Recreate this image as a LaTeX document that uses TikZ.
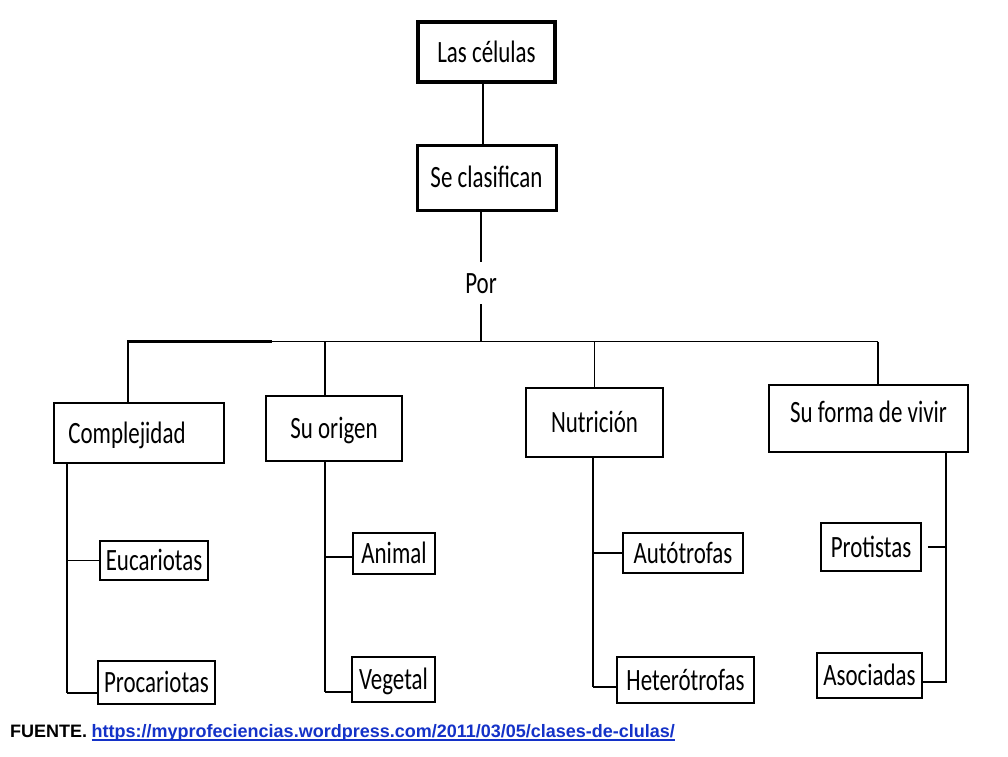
\documentclass[tikz,border=0pt]{standalone}
\usepackage{fontspec}
\usepackage{graphicx}
\setmainfont{Carlito}
\newfontfamily\footfont{Liberation Sans}
\definecolor{linkblue}{RGB}{20,50,200}
\newcommand\sq[1]{\scalebox{0.74}[1]{#1}}
\tikzset{
  box/.style={draw=black, inner sep=0pt, font=\fontsize{31}{36}\selectfont,
    text height=22pt, text depth=2pt},
  thn/.style={line width=1.2pt},
  thk/.style={line width=2.6pt},
}
\begin{document}
\begin{tikzpicture}[x=1pt,y=-1pt]
\useasboundingbox[fill=white] (0,0) rectangle (1008,756);
% top boxes
\node[box, line width=4pt, minimum width=137pt, minimum height=60pt] (cel) at (486.5,52) {\sq{Las células}};
\node[box, line width=3pt, minimum width=139pt, minimum height=65pt] (cla) at (486.5,177.5) {\sq{Se clasifican}};
\node[box, draw=none, inner ysep=9pt] (por) at (481,283) {\sq{Por}};
% second level
\node[box, line width=2pt, minimum width=170pt, minimum height=60pt] (comp) at (139,433) {\sq{Complejidad}\hspace*{24pt}};
\node[box, line width=1.2pt, minimum width=136pt, minimum height=65pt] (ori) at (334,428.5) {\sq{Su origen}};
\node[box, line width=2.5pt, minimum width=137pt, minimum height=69pt] (nut) at (594.5,422.5) {\sq{Nutrición}};
\node[box, line width=1.5pt, minimum width=199pt, minimum height=67pt, text depth=14pt] (viv) at (868.5,418.5) {\sq{Su forma de vivir}};
% third level
\node[box, line width=1.3pt, minimum width=108pt, minimum height=39pt] (euc) at (154,560.5) {\sq{Eucariotas}};
\node[box, line width=2pt, minimum width=117pt, minimum height=43pt] (pro) at (156.5,682.5) {\sq{Procariotas}};
\node[box, line width=1.3pt, minimum width=82pt, minimum height=41pt] (ani) at (394,553.5) {\sq{Animal}};
\node[box, line width=2pt, minimum width=83pt, minimum height=45pt] (veg) at (393.5,679.5) {\sq{Vegetal}};
\node[box, line width=2pt, minimum width=120pt, minimum height=40pt] (aut) at (683,553) {\sq{Autótrofas}};
\node[box, line width=1.5pt, minimum width=137pt, minimum height=46pt] (het) at (685.5,680) {\sq{Heterótrofas}};
\node[box, line width=1.5pt, minimum width=100pt, minimum height=48pt] (prot) at (871,547) {\sq{Protistas}};
\node[box, line width=2.5pt, minimum width=105pt, minimum height=45pt] (aso) at (869.5,675.5) {\sq{Asociadas}};
% top connectors
\draw[thn] ([xshift=-3.5pt]cel.south) -- ([xshift=-3.5pt]cla.north);
\draw[thk] (cla.south -| por.north) -- (por.north);
\coordinate (bl) at (128,341.5);
\coordinate (bm) at (272,341.5);
\coordinate (br) at (878,341.5);
\draw[thn] (por.south) -- (por.south |- br);
\draw[thk] ([xshift=-11pt]comp.north) -- (bl) -- (bm);
\draw[thn] (bm) -- (br);
\draw[thk] (br) -- ([xshift=9.5pt]viv.north);
\draw[thn] ([xshift=-9pt]ori.north) -- ([xshift=-9pt]ori.north |- br);
\draw[thn] (nut.north) -- (nut.north |- br);
% Complejidad branch
\coordinate (c1) at (67,693);
\draw[thn] ([xshift=-72pt]comp.south) -- (c1);
\draw[thk] (c1) -- (c1 -| pro.west);
\draw[thn] (c1 |- euc.west) -- (euc.west);
% Su origen branch
\coordinate (c2) at (325,692);
\draw[thn] ([xshift=-9pt]ori.south) -- (c2);
\draw[thk] (c2) -- (c2 -| veg.west);
\draw[thn] ([yshift=-3.5pt]c2 |- ani.west) -- ([yshift=-3.5pt]ani.west);
% Nutricion branch
\coordinate (c3) at (593,687);
\draw[thn] ([xshift=-1.5pt]nut.south) -- (c3);
\draw[thk] (c3) -- (c3 -| het.west);
\draw[thn] (c3 |- aut.west) -- (aut.west);
% Su forma de vivir branch
\coordinate (c4) at (946,682);
\draw[thn] ([xshift=77.5pt]viv.south) -- (c4) -- (c4 -| aso.east);
\draw[thk] ([xshift=6pt]prot.east) -- (prot.east -| c4);
% footer
\node[anchor=base west, inner sep=0pt, font=\footfont\bfseries\fontsize{18}{22}\selectfont] (fu) at (10,737.5) {FUENTE.};
\node[anchor=base west, inner sep=0pt, text=linkblue, font=\footfont\bfseries\fontsize{18}{22}\selectfont] (url) at (91.5,737.5) {https://myprofeciencias.wordpress.com/2011/03/05/clases-de-clulas/};
\draw[linkblue, line width=1.3pt] ([yshift=-2.5pt]url.base west) -- ([yshift=-2.5pt]url.base east);
\end{tikzpicture}
\end{document}
